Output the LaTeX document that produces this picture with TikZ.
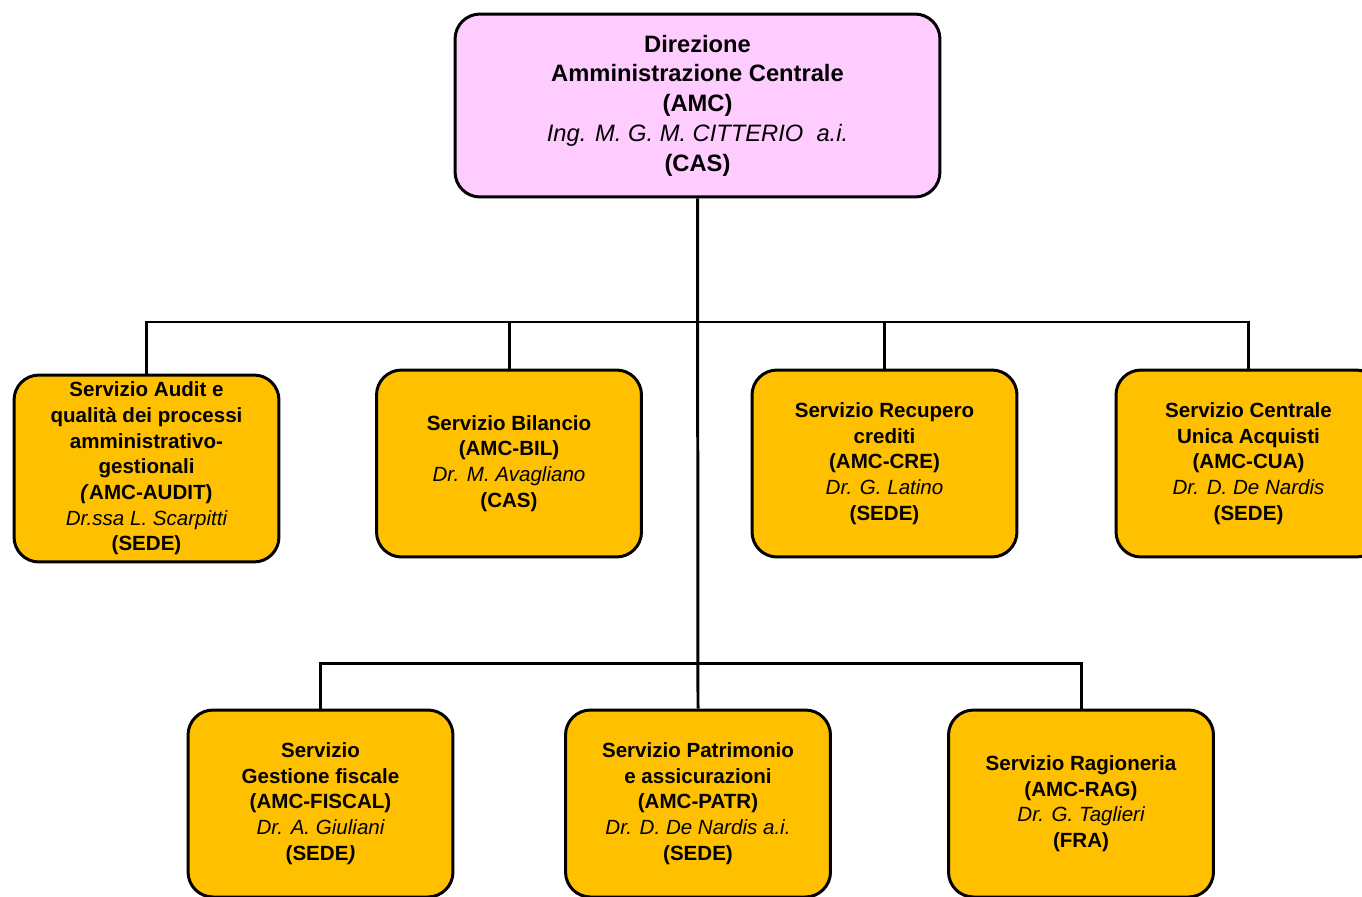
\documentclass[tikz,border=0pt]{standalone}
\usepackage{fontspec}
\setmainfont{Liberation Sans}
\definecolor{dirPink}{HTML}{FFCCFF}
\definecolor{servGold}{HTML}{FFC000}
\newcommand{\personName}[1]{{\mdseries\itshape #1}}
\begin{document}
\begin{tikzpicture}
[x=0.02cm,y=-0.02cm,%
  linkDecorate/.style={line width=1.7pt},%
  boxDecorate/.style={shape=rectangle,rounded corners=0.5cm,draw,line width=1.7pt,
    align=center,inner sep=2pt,font=\fontsize{11.7}{14.6}\selectfont\bfseries},%
  dirDecorate/.style={boxDecorate,fill=dirPink,minimum width=9.7cm,minimum height=3.66cm,
    font=\fontsize{13.5}{16.9}\selectfont\bfseries},%
  servDecorate/.style={boxDecorate,fill=servGold,minimum width=5.3cm,minimum height=3.74cm}]
\useasboundingbox (0,0) rectangle (1362,896);
%% head of the direction
\node (dir) at (697.5,105.5) [dirDecorate]
  {Direzione\\ Amministrazione Centrale\\ (AMC)\\
   \personName{Ing. M. G. M. CITTERIO\ \ a.i.}\\ (CAS)};
%% services, first and second row
\foreach \nodename/\x/\y/\text in {
  audit/146.5/468.5/{Servizio Audit e\\ qualità dei processi\\ amministrativo-\\ gestionali\\
    \textit{(}AMC-AUDIT)\\ \personName{Dr.ssa L. Scarpitti}\\ (SEDE)},
  bil/509/463.5/{Servizio Bilancio\\ (AMC-BIL)\\ \personName{Dr. M. Avagliano}\\ (CAS)},
  cre/884.5/463.5/{Servizio Recupero\\ crediti\\ (AMC-CRE)\\ \personName{Dr. G. Latino}\\ (SEDE)},
  cua/1248.5/463.5/{Servizio Centrale\\ Unica Acquisti\\ (AMC-CUA)\\ \personName{Dr. D. De Nardis}\\ (SEDE)},
  fiscal/320.5/803.5/{Servizio\\ Gestione fiscale\\ (AMC-FISCAL)\\ \personName{Dr. A. Giuliani}\\ (SEDE\textit{)}},
  patr/698/803.5/{Servizio Patrimonio\\ e assicurazioni\\ (AMC-PATR)\\ \personName{Dr. D. De Nardis a.i.}\\ (SEDE)},
  rag/1081/803.5/{Servizio Ragioneria\\ (AMC-RAG)\\ \personName{Dr. G. Taglieri}\\ (FRA)}}
{
  \node (\nodename) at (\x,\y) [servDecorate] {\text};
}
%% connectors
\coordinate (busA) at (697,322);
\coordinate (busB) at (697,663);
\draw[linkDecorate] (dir.south) -- (patr.north);
\foreach \endnode in {audit,bil,cre,cua}
  \draw[linkDecorate] (busA) -| (\endnode.north);
\foreach \endnode in {fiscal,rag}
  \draw[linkDecorate] (busB) -| (\endnode.north);
\end{tikzpicture}
\end{document}
